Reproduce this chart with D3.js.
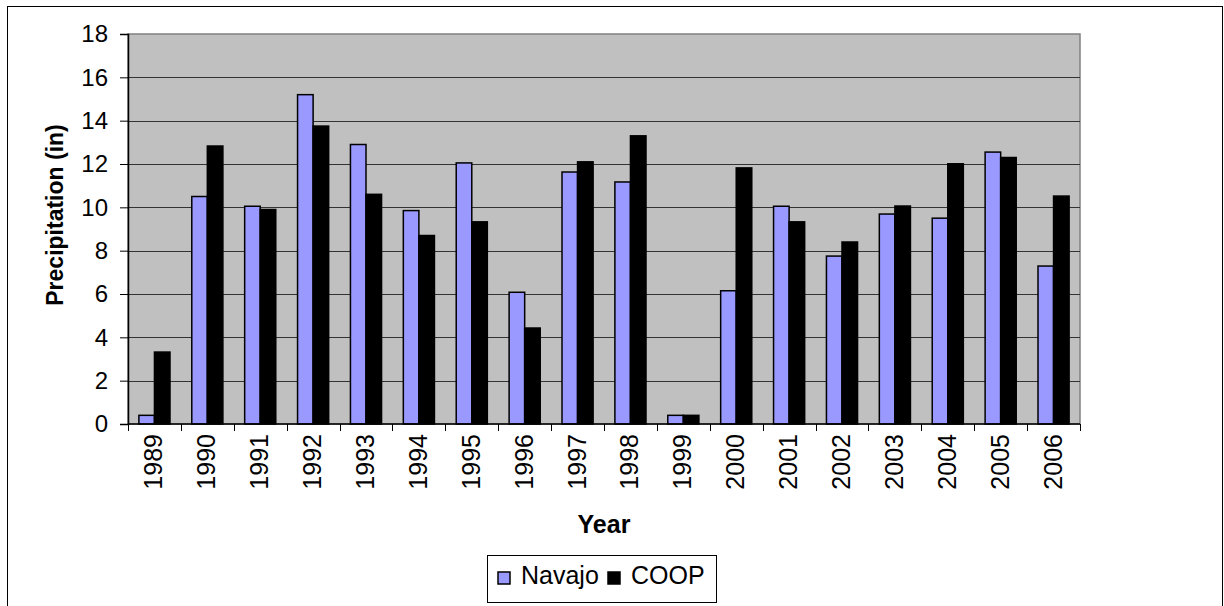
<!DOCTYPE html>
<html>
<head>
<meta charset="utf-8">
<script src="https://cdn.jsdelivr.net/npm/d3@7"></script>
<style>
  html, body { margin: 0; padding: 0; background: #fff; }
  svg { display: block; font-family: "Liberation Sans", Arial, sans-serif; }
</style>
</head>
<body>
<div id="chart"></div>
<script>
(function(){

  const years = ['1989','1990','1991','1992','1993','1994','1995','1996','1997',
                 '1998','1999','2000','2001','2002','2003','2004','2005','2006']
  const navajo = [0.4, 10.5, 10.05, 15.2, 12.9, 9.85, 12.05, 6.08, 11.63,
                  11.17, 0.4, 6.15, 10.05, 7.75, 9.69, 9.5, 12.55, 7.29]
  const coop = [3.32, 12.83, 9.9, 13.75, 10.6, 8.7, 9.33, 4.43, 12.1,
                13.3, 0.4, 11.82, 9.33, 8.4, 10.06, 12.01, 12.3, 10.52]
  const seriesNames = ['Navajo', 'COOP']
  const yTicks = [0, 2, 4, 6, 8, 10, 12, 14, 16, 18]

  const colors = { Navajo: '#9999ff', COOP: '#000000' }

  const W = 1224, H = 606
  const plot = { left: 128, right: 1080, top: 34, bottom: 424 }

  var svg = d3.select('#chart').append('svg')
              .attr('width', W).attr('height', H)

  // outer chart frame
  svg.append('rect')
      .attr('x', 7.5).attr('y', 6.5)
      .attr('width', 1215).attr('height', 610)
      .attr('fill', '#fff').attr('stroke', '#000').attr('stroke-width', 1)

  var x = d3.scaleBand().domain(years)
            .range([plot.left, plot.right]).paddingInner(0).paddingOuter(0)
  var y = d3.scaleLinear().domain([0, 18]).range([plot.bottom, plot.top])

  // plot area
  svg.append('rect')
      .attr('x', plot.left).attr('y', plot.top)
      .attr('width', plot.right - plot.left).attr('height', plot.bottom - plot.top)
      .attr('fill', '#c0c0c0').attr('stroke', '#808080').attr('stroke-width', 1.5)

  // gridlines
  svg.append('g').selectAll('line').data(yTicks.filter(d => d > 0 && d < 18))
    .enter().append('line')
      .attr('x1', plot.left).attr('x2', plot.right)
      .attr('y1', d => Math.round(y(d)) + 0.5).attr('y2', d => Math.round(y(d)) + 0.5)
      .attr('stroke', '#333').attr('stroke-width', 1)

  // bars
  var groupW = x.bandwidth() / 1.7
  var barW = groupW / 2
  var rows = years.map((yr, i) => ({ year: yr, Navajo: navajo[i], COOP: coop[i] }))

  var groups = svg.append('g').selectAll('g').data(rows).enter().append('g')
      .attr('transform', d => `translate(${x(d.year) + (x.bandwidth() - groupW) / 2},0)`)

  groups.selectAll('rect')
      .data(d => seriesNames.map(s => ({ key: s, value: d[s] })))
      .enter().append('rect')
        .attr('x', (d, i) => i * barW)
        .attr('y', d => y(d.value))
        .attr('width', barW)
        .attr('height', d => y(0) - y(d.value))
        .attr('fill', d => colors[d.key])
        .attr('stroke', '#000').attr('stroke-width', 1.5)

  // y axis
  var yAxis = d3.axisLeft(y).tickValues(yTicks).tickSize(8).tickPadding(12)
  var gy = svg.append('g').attr('transform', `translate(${plot.left},0)`).call(yAxis)
  gy.attr('font-size', null).attr('font-family', null)
  gy.select('.domain').attr('stroke', '#000').attr('stroke-width', 1.5)
  gy.selectAll('.tick line').attr('stroke', '#000')
  gy.selectAll('.tick text')
      .attr('font-size', '24px').attr('fill', '#000')

  // x axis: ticks at category boundaries
  var gx = svg.append('g').attr('transform', `translate(0,${plot.bottom})`)
  gx.append('line')
      .attr('x1', plot.left).attr('x2', plot.right)
      .attr('y1', 0).attr('y2', 0)
      .attr('stroke', '#000').attr('stroke-width', 1.5)
  var bounds = years.map(d => x(d)).concat([x(years[years.length - 1]) + x.bandwidth()])
  gx.selectAll('line.tk').data(bounds).enter().append('line')
      .attr('class', 'tk')
      .attr('x1', d => Math.round(d) + 0.5).attr('x2', d => Math.round(d) + 0.5)
      .attr('y1', 0).attr('y2', 7)
      .attr('stroke', '#000')
  gx.selectAll('text').data(years).enter().append('text')
      .attr('transform', d => `translate(${x(d) + x.bandwidth() / 2 + 8},10) rotate(-90)`)
      .attr('text-anchor', 'end')
      .attr('font-size', '25px')
      .text(d => d)

  // axis titles
  svg.append('text')
      .attr('x', (plot.left + plot.right) / 2).attr('y', 533)
      .attr('text-anchor', 'middle')
      .attr('font-size', '25px').attr('font-weight', 'bold')
      .text('Year')

  svg.append('text')
      .attr('transform', 'translate(63,215) rotate(-90)')
      .attr('text-anchor', 'middle')
      .attr('font-size', '23px').attr('font-weight', 'bold')
      .text('Precipitation (in)')

  // legend
  var lg = svg.append('g').attr('transform', 'translate(487,555)')
  lg.append('rect')
      .attr('x', 0.5).attr('y', 0.5).attr('width', 229).attr('height', 47)
      .attr('fill', '#fff').attr('stroke', '#000').attr('stroke-width', 1)
  var itemX = [11, 121]
  var items = lg.selectAll('g.item').data(seriesNames).enter().append('g')
      .attr('class', 'item')
      .attr('transform', (d, i) => `translate(${itemX[i]},0)`)
  items.append('rect')
      .attr('x', 0).attr('y', 17).attr('width', 12).attr('height', 12)
      .attr('fill', d => colors[d]).attr('stroke', '#000').attr('stroke-width', 1.5)
  items.append('text')
      .attr('x', 23).attr('y', 29)
      .attr('font-size', '25px')
      .text(d => d)

})()
</script>
</body>
</html>
